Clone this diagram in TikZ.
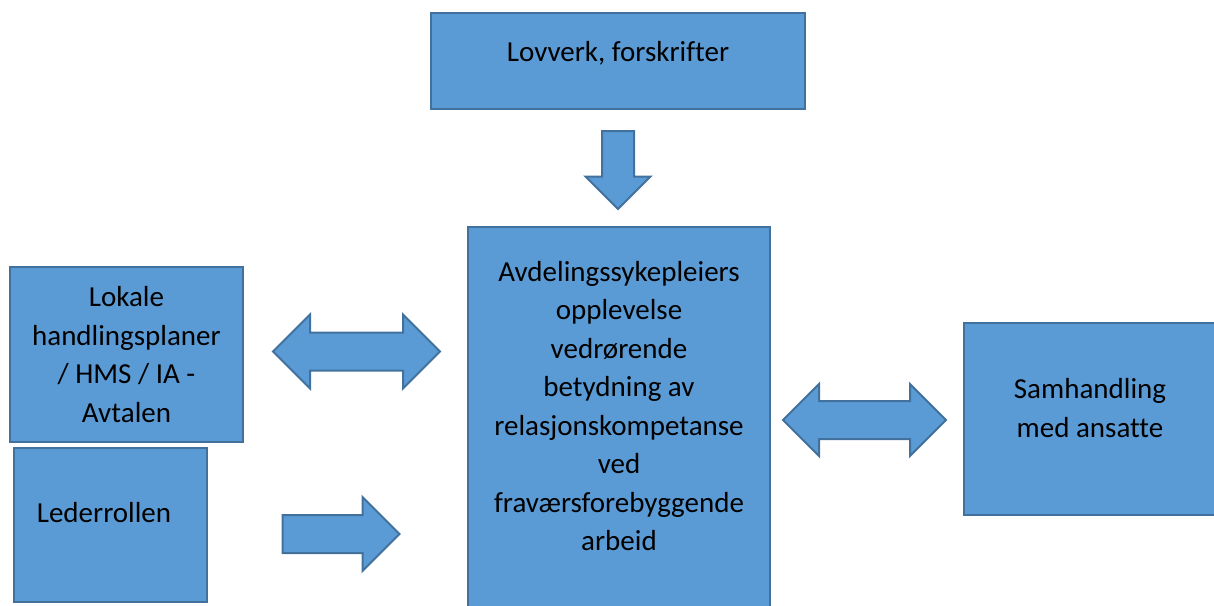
\documentclass[tikz,border=0pt]{standalone}
\usepackage{fontspec}
\setmainfont{Carlito}[Ligatures=NoCommon]
\usepackage{tikz}
\usetikzlibrary{shapes,arrows}
\definecolor{boxblue}{HTML}{5B9BD5}
\definecolor{boxline}{HTML}{41719C}

\begin{document}
\begin{tikzpicture}[x=1pt,y=-1pt,line width=2pt,font=\fontsize{29}{38.5}\selectfont]
\tikzstyle{every node}=[text=black,inner sep=0pt]
\tikzstyle{box}=[rectangle,draw=boxline,fill=boxblue,align=center]
\tikzstyle{arr}=[draw=boxline,fill=boxblue,inner sep=18pt]
\useasboundingbox (0,0) rectangle (1214,605);
% boxes
\node[box,minimum width=374pt,minimum height=96pt] (law) at (618,61) {};
\node (lawtxt) at (618,53) {Lovverk, forskrifter};
\node[box,minimum width=302pt,minimum height=386pt] (main) at (619,420) {};
\node[align=center] (maintxt) at (619,406) {Avdelingssykepleiers\\opplevelse\\vedrørende\\betydning av\\relasjonskompetanse\\ved\\fraværsforebyggende\\arbeid};
\node[box,minimum width=233pt,minimum height=175pt] (plan) at (126.5,354.5) {Lokale\\handlingsplaner\\/ HMS / IA -\\Avtalen};
\node[box,minimum width=193pt,minimum height=154pt] (lead) at (110.5,525) {};
\node (leadtxt) at (104,513) {Lederrollen};
\node[box,minimum width=252pt,minimum height=192pt] (staff) at (1090,419) {};
\node[align=center] (stafftxt) at (1090,408) {Samhandling\\med ansatte};
% arrows
\node[arr,inner sep=15pt,single arrow,shape border rotate=270,minimum width=63pt,minimum height=78pt,single arrow head extend=16.5pt] (down) at (618,162) {};
\node[arr,double arrow,minimum width=73pt,minimum height=167pt,double arrow head extend=18pt] (both1) at (356.5,351.5) {};
\node[arr,double arrow,minimum width=70pt,minimum height=163pt,double arrow head extend=17pt] (both2) at (864.5,420) {};
\node[arr,single arrow,minimum width=72pt,minimum height=117pt,single arrow head extend=18pt] (right) at (331.5,534) {};
\end{tikzpicture}
\end{document}
